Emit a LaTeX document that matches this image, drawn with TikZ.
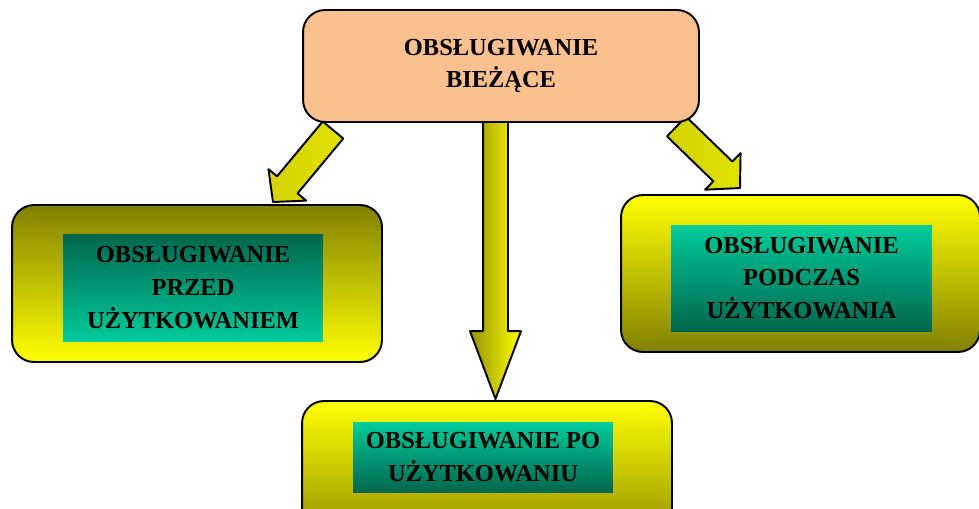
\documentclass[tikz,border=0pt]{standalone}
\usepackage{fontspec}
\setmainfont{Liberation Serif}
\usetikzlibrary{calc}
\definecolor{peach}{RGB}{250,192,144}
\definecolor{olv}{RGB}{128,128,0}
\definecolor{yel}{RGB}{255,255,0}
\definecolor{arrowyel}{RGB}{225,225,0}
\definecolor{dkgreen}{RGB}{0,102,78}
\definecolor{ltgreen}{RGB}{0,204,153}
\newcommand\blockarrow[6]{%
  \coordinate (#2-hb) at ($(#2)!#5!(#1)$);
  \draw[#6] ($(#1)!#3!90:(#2)$) -- ($(#2-hb)!#3!-90:(#1)$) -- ($(#2-hb)!#4!-90:(#1)$) -- (#2)
    -- ($(#2-hb)!#4!90:(#1)$) -- ($(#2-hb)!#3!90:(#1)$) -- ($(#1)!#3!-90:(#2)$) -- cycle;}

\begin{document}
\begin{tikzpicture}[x=0.02cm,y=-0.02cm]
    \tikzset{frame/.style={rectangle, draw, line width=1.1pt, rounded corners=0.44cm, minimum height=3.14cm},
             inbox/.style={rectangle, align=center, inner sep=0pt, font=\fontsize{13.9}{18.6}\selectfont\bfseries},
             blockfill/.style={draw, line width=1.1pt, line join=round}};
    \useasboundingbox (0,0) rectangle (979,508);
    \clip (0,0) rectangle (979,508);

    \coordinate (lTail) at (333,130);
    \coordinate (lTip) at (273,202);
    \coordinate (mTail) at (495.5,122);
    \coordinate (mTip) at (495.5,399);
    \coordinate (rTail) at (676.5,126.5);
    \coordinate (rTip) at (740,188);
    \blockarrow{lTail}{lTip}{7.6pt}{14pt}{12.7pt}{blockfill, left color=arrowyel!85!olv, right color=arrowyel}
    \blockarrow{mTail}{mTip}{7.1pt}{14.5pt}{38.6pt}{blockfill, left color=olv!85!yel, right color=yel}
    \blockarrow{rTail}{rTip}{7.8pt}{14.5pt}{13.6pt}{blockfill, left color=arrowyel!85!olv, right color=arrowyel}

    \node[frame, fill=peach, minimum width=7.92cm, minimum height=2.24cm] (obsBiezace) at (501,66) {};
    \node[inbox] at (obsBiezace) {OBSŁUGIWANIE\\BIEŻĄCE};

    \node[frame, top color=olv, bottom color=yel, minimum width=7.4cm] (framePrzed) at (197,283.5) {};
    \node[inbox, top color=dkgreen, bottom color=ltgreen, minimum width=5.2cm, minimum height=2.14cm] (obsPrzed) at (193,287.5) {OBSŁUGIWANIE\\PRZED\\UŻYTKOWANIEM};

    \node[frame, top color=yel, bottom color=olv, minimum width=7.18cm] (framePodczas) at (800.5,273.5) {};
    \node[inbox, top color=ltgreen, bottom color=dkgreen, minimum width=5.22cm, minimum height=2.12cm] (obsPodczas) at (801.5,278) {OBSŁUGIWANIE\\PODCZAS\\UŻYTKOWANIA};

    \node[frame, top color=yel, bottom color=olv, minimum width=7.4cm] (framePo) at (487,479.5) {};
    \node[inbox, top color=ltgreen, bottom color=dkgreen, minimum width=5.2cm, minimum height=1.4cm] (obsPo) at (483,457) {OBSŁUGIWANIE PO\\UŻYTKOWANIU};
\end{tikzpicture}
\end{document}
